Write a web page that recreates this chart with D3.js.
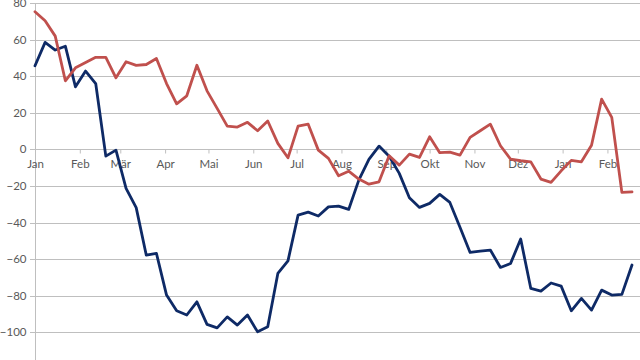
<!DOCTYPE html>
<html>
<head>
<meta charset="utf-8">
<script src="https://cdn.jsdelivr.net/npm/d3@7"></script>
<style>
  html, body { margin: 0; padding: 0; background: #fff; overflow: hidden; }
  svg { display: block; }
  text { font-family: Lato, "Open Sans", sans-serif; }
</style>
</head>
<body>
<svg id="chart" width="640" height="360"></svg>
<script>
// ---- data ----
const weekDates = [
  "2014-01-01","2014-01-08","2014-01-15","2014-01-22","2014-01-29",
  "2014-02-05","2014-02-12","2014-02-19","2014-02-26","2014-03-05",
  "2014-03-12","2014-03-19","2014-03-26","2014-04-02","2014-04-09",
  "2014-04-16","2014-04-23","2014-04-30","2014-05-07","2014-05-14",
  "2014-05-21","2014-05-28","2014-06-04","2014-06-11","2014-06-18",
  "2014-06-25","2014-07-02","2014-07-09","2014-07-16","2014-07-23",
  "2014-07-30","2014-08-06","2014-08-13","2014-08-20","2014-08-27",
  "2014-09-03","2014-09-10","2014-09-17","2014-09-24","2014-10-01",
  "2014-10-08","2014-10-15","2014-10-22","2014-10-29","2014-11-05",
  "2014-11-12","2014-11-19","2014-11-26","2014-12-03","2014-12-10",
  "2014-12-17","2014-12-24","2014-12-31","2015-01-07","2015-01-14",
  "2015-01-21","2015-01-28","2015-02-04","2015-02-11","2015-02-18"
];
const blueValues = [
  45.7, 58.5, 54.3, 56.4, 34.2, 42.8, 36.0, -3.7, -0.4, -21.3,
  -31.8, -57.8, -56.8, -79.6, -88.2, -90.5, -83.3, -95.6, -97.5, -91.5,
  -96.0, -90.5, -99.7, -96.9, -67.8, -60.9, -35.9, -34.3, -36.4, -31.4,
  -31.0, -32.8, -16.8, -5.5, 1.8, -3.7, -13.1, -26.4, -31.7, -29.5,
  -24.6, -29.0, -42.5, -56.3, -55.6, -55.0, -64.5, -62.3, -49.0, -76.0,
  -77.4, -73.0, -74.7, -88.2, -81.4, -87.8, -76.9, -79.6, -79.2, -63.2
];
const redValues = [
  75.2, 70.3, 61.9, 37.5, 44.6, 47.5, 50.3, 50.3, 39.1, 47.9,
  45.9, 46.4, 49.7, 36.0, 24.9, 29.3, 46.0, 32.0, 22.4, 12.7,
  12.2, 14.8, 10.2, 15.5, 3.3, -4.6, 12.7, 13.8, -0.4, -4.9,
  -14.4, -11.9, -16.2, -19.0, -17.7, -3.5, -8.6, -2.6, -4.4, 6.9,
  -1.8, -1.5, -3.1, 6.6, 10.2, 13.8, 2.0, -5.3, -6.2, -6.8,
  -16.2, -18.0, -11.7, -6.0, -6.8, 2.3, 27.5, 17.5, -23.5, -23.2
];
const monthTickDates = [
  "2014-01-01","2014-02-01","2014-03-01","2014-04-01","2014-05-01",
  "2014-06-01","2014-07-01","2014-08-01","2014-09-01","2014-10-01",
  "2014-11-01","2014-12-01","2015-01-01","2015-02-01"
];
const monthLabels = ["Jan","Feb","Mär","Apr","Mai","Jun","Jul","Aug","Sep","Okt","Nov","Dez","Jan","Feb"];
const yTicks = [-100, -80, -60, -40, -20, 0, 20, 40, 60, 80];

// ---- chart ----
const svg = d3.select("#chart");
const parse = d3.utcParse("%Y-%m-%d");
const dates = weekDates.map(parse);

const x = d3.scaleUtc()
  .domain([dates[0], dates[dates.length - 1]])
  .range([35, 632]);
const y = d3.scaleLinear().domain([-120, 80]).range([369, 3]);

const gridColor = "#bfbfbf";
const textColor = "#595959";

// horizontal gridlines
svg.append("g")
  .selectAll("line")
  .data(yTicks)
  .join("line")
  .attr("x1", 30).attr("x2", 640)
  .attr("y1", d => Math.round(y(d)) + 0.5)
  .attr("y2", d => Math.round(y(d)) + 0.5)
  .attr("stroke", gridColor)
  .attr("stroke-width", 1);

// y axis
const yAxis = svg.append("g")
  .attr("transform", "translate(35.5,0)")
  .call(d3.axisLeft(y).tickValues(yTicks).tickSize(5).tickPadding(5));
yAxis.select(".domain").attr("stroke", gridColor).attr("d", "M0,3V369");
yAxis.selectAll(".tick line").attr("stroke", gridColor);
yAxis.selectAll(".tick")
  .attr("transform", d => `translate(0,${Math.round(y(d)) + 0.5})`);
yAxis.selectAll("text")
  .attr("fill", textColor)
  .style("font-size", "11.5px")
  .attr("x", -9);

// x axis at zero
const xAxis = svg.append("g")
  .attr("transform", `translate(0,${Math.round(y(0)) + 0.5})`)
  .call(d3.axisBottom(x)
    .tickValues(monthTickDates.map(parse))
    .tickFormat((d, i) => monthLabels[i])
    .tickSize(4)
    .tickPadding(6));
xAxis.select(".domain").attr("stroke", gridColor).attr("d", "M35,0H640");
xAxis.selectAll(".tick line").attr("stroke", gridColor);
xAxis.selectAll("text")
  .attr("fill", textColor)
  .style("font-size", "11.5px");

// lines
const line = d3.line()
  .x((d, i) => x(dates[i]))
  .y(d => y(d));

svg.append("path")
  .datum(blueValues)
  .attr("fill", "none")
  .attr("stroke", "#0e2a66")
  .attr("stroke-width", 2.8)
  .attr("stroke-linejoin", "round")
  .attr("stroke-linecap", "round")
  .attr("d", line);

svg.append("path")
  .datum(redValues)
  .attr("fill", "none")
  .attr("stroke", "#c0504d")
  .attr("stroke-width", 2.8)
  .attr("stroke-linejoin", "round")
  .attr("stroke-linecap", "round")
  .attr("d", line);
</script>
</body>
</html>
